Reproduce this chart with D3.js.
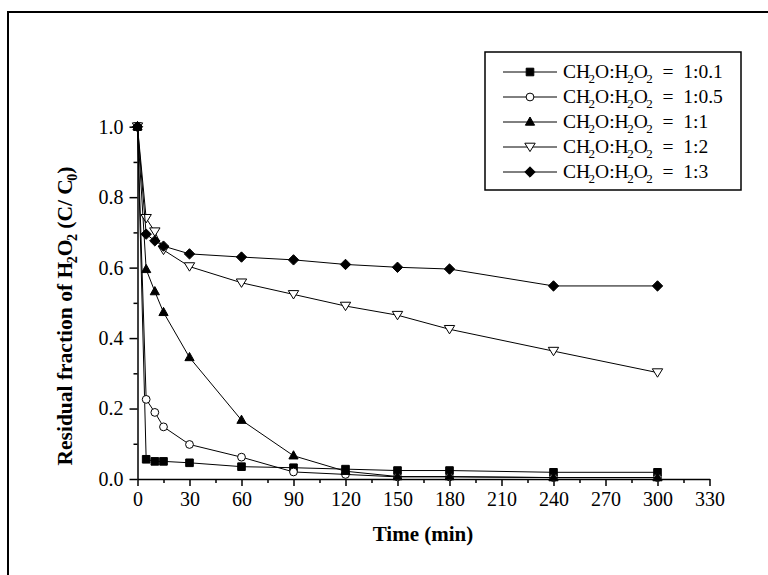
<!DOCTYPE html>
<html>
<head>
<meta charset="utf-8">
<script src="https://cdn.jsdelivr.net/npm/d3@7"></script>
<style>
  body { margin: 0; background: #fff; }
  svg { display: block; }
  text { font-family: "Liberation Serif", "Times New Roman", serif; fill: #000; }
</style>
</head>
<body>
<svg id="chart" width="768" height="575"></svg>
<script>
// Sampling times (min)
const times = [0, 5, 10, 15, 30, 60, 90, 120, 150, 180, 240, 300];

// Residual fraction of H2O2 (C/C0) for each CH2O:H2O2 molar ratio
const ratio_1_01 = [1.0, 0.056, 0.050, 0.050, 0.046, 0.035, 0.032, 0.028, 0.024, 0.024, 0.019, 0.019];
const ratio_1_05 = [1.0, 0.226, 0.189, 0.148, 0.098, 0.062, 0.020, 0.013, 0.006, 0.006, 0.004, 0.004];
const ratio_1_1  = [1.0, 0.595, 0.532, 0.473, 0.345, 0.167, 0.066, 0.022, 0.007, 0.007, 0.004, 0.004];
const ratio_1_2  = [1.0, 0.740, 0.702, 0.650, 0.603, 0.557, 0.524, 0.491, 0.465, 0.425, 0.363, 0.302];
const ratio_1_3  = [1.0, 0.695, 0.676, 0.661, 0.639, 0.630, 0.622, 0.609, 0.601, 0.596, 0.548, 0.548];

const seriesLabels = ["1:0.1", "1:0.5", "1:1", "1:2", "1:3"];
const seriesValues = [ratio_1_01, ratio_1_05, ratio_1_1, ratio_1_2, ratio_1_3];
const seriesMarkers = ["square", "circle", "triangleUp", "triangleDown", "diamond"];

// Axis ticks
const xMajorTicks = [0, 30, 60, 90, 120, 150, 180, 210, 240, 270, 300, 330];
const xMinorTicks = [15, 45, 75, 105, 135, 165, 195, 225, 255, 285, 315];
const yMajorTicks = [0.0, 0.2, 0.4, 0.6, 0.8, 1.0];
const yMinorTicks = [0.1, 0.3, 0.5, 0.7, 0.9];

const svg = d3.select("#chart");

// Outer frame (top and left edges fall inside the page)
svg.append("path")
  .attr("d", "M8,600 L8,12 L800,12")
  .attr("fill", "none").attr("stroke", "#000").attr("stroke-width", 2);

const x = d3.scaleLinear().domain([0, 330]).range([137.5, 709.5]);
const y = d3.scaleLinear().domain([0, 1.0]).range([479, 126.7]);

// Marker shapes
function markerPath(kind) {
  const p = d3.path();
  switch (kind) {
    case "square": { const h = 3.8; p.rect(-h, -h, 2 * h, 2 * h); break; }
    case "circle": { p.arc(0, 0, 3.9, 0, 2 * Math.PI); break; }
    case "triangleUp": { p.moveTo(0, -5); p.lineTo(4.6, 3.2); p.lineTo(-4.6, 3.2); p.closePath(); break; }
    case "triangleDown": { p.moveTo(0, 4.6); p.lineTo(5.2, -3.8); p.lineTo(-5.2, -3.8); p.closePath(); break; }
    case "diamond": { p.moveTo(0, -5.2); p.lineTo(5.2, 0); p.lineTo(0, 5.2); p.lineTo(-5.2, 0); p.closePath(); break; }
  }
  return p.toString();
}
const markerFill = { square: "#000", circle: "#fff", triangleUp: "#000", triangleDown: "#fff", diamond: "#000" };

// Axes
svg.append("g").attr("transform", `translate(0,${y(0)})`)
  .call(d3.axisBottom(x).tickValues(xMajorTicks).tickSize(7).tickSizeOuter(0).tickPadding(6).tickFormat(d3.format("d")));
svg.append("g").attr("transform", `translate(0,${y(0)})`)
  .call(d3.axisBottom(x).tickValues(xMinorTicks).tickSize(4).tickSizeOuter(0).tickFormat(""))
  .call(g => g.select(".domain").remove())
  .call(g => g.selectAll(".tick text").remove());

svg.append("g").attr("transform", `translate(${x(0)},0)`)
  .call(d3.axisLeft(y).tickValues(yMajorTicks).tickSize(8).tickSizeOuter(0).tickPadding(6).tickFormat(d3.format(".1f")));
svg.append("g").attr("transform", `translate(${x(0)},0)`)
  .call(d3.axisLeft(y).tickValues(yMinorTicks).tickSize(4).tickSizeOuter(0).tickFormat(""))
  .call(g => g.select(".domain").remove())
  .call(g => g.selectAll(".tick text").remove());

svg.selectAll(".domain, .tick line").attr("stroke", "#000").attr("stroke-width", 1.5);
svg.selectAll(".tick text")
  .style("font-family", "'Liberation Serif', 'Times New Roman', serif")
  .style("font-size", "20px").attr("fill", "#000");

// Series lines and markers
const line = d3.line().x(d => x(d[0])).y(d => y(d[1]));
seriesValues.forEach((vals, i) => {
  const pts = times.map((t, j) => [t, vals[j]]);
  const g = svg.append("g");
  g.append("path").attr("d", line(pts))
    .attr("fill", "none").attr("stroke", "#000").attr("stroke-width", 1);
  const kind = seriesMarkers[i];
  g.selectAll("path.m").data(pts).join("path").attr("class", "m")
    .attr("d", markerPath(kind))
    .attr("transform", d => `translate(${x(d[0])},${y(d[1])})`)
    .attr("fill", markerFill[kind]).attr("stroke", "#000").attr("stroke-width", 1);
});

// Chemical formula text with subscripts: each tspan shifts relative to the previous one
function formula(sel, parts, subSize, subShift) {
  let prevSub = false;
  parts.forEach(([txt, sub]) => {
    const dy = (sub ? subShift : 0) - (prevSub ? subShift : 0);
    const ts = sel.append("tspan").text(txt);
    if (dy !== 0) ts.attr("dy", dy);
    if (sub) ts.style("font-size", subSize + "px").attr("dx", -1.5);
    prevSub = !!sub;
  });
}

// Legend
const lg = svg.append("g");
lg.append("rect").attr("x", 485).attr("y", 52).attr("width", 256).attr("height", 138)
  .attr("fill", "#fff").attr("stroke", "#000").attr("stroke-width", 1.5);
seriesLabels.forEach((lab, i) => {
  const cy = 72 + i * 25;
  lg.append("line").attr("x1", 503).attr("x2", 557).attr("y1", cy).attr("y2", cy)
    .attr("stroke", "#000").attr("stroke-width", 1);
  const kind = seriesMarkers[i];
  lg.append("path").attr("d", markerPath(kind)).attr("transform", `translate(530,${cy})`)
    .attr("fill", markerFill[kind]).attr("stroke", "#000").attr("stroke-width", 1);
  const t = lg.append("text").attr("x", 563).attr("y", cy + 6)
    .style("font-size", "19.5px").style("white-space", "pre");
  formula(t, [["CH"], ["2", true], ["O:H"], ["2", true], ["O"], ["2", true], ["  =  " + lab]], 13, 5);
});

// Axis titles
svg.append("text").attr("x", 423).attr("y", 541).attr("text-anchor", "middle")
  .style("font-size", "21px").style("font-weight", "bold").text("Time (min)");

const yt = svg.append("text").attr("transform", "translate(72,316) rotate(-90)")
  .attr("text-anchor", "middle").style("font-size", "21.5px").style("font-weight", "bold")
  .style("white-space", "pre");
formula(yt, [["Residual fraction of H"], ["2", true], ["O"], ["2", true], [" (C/ C"], ["0", true], [")"]], 14, 5);
</script>
</body>
</html>
